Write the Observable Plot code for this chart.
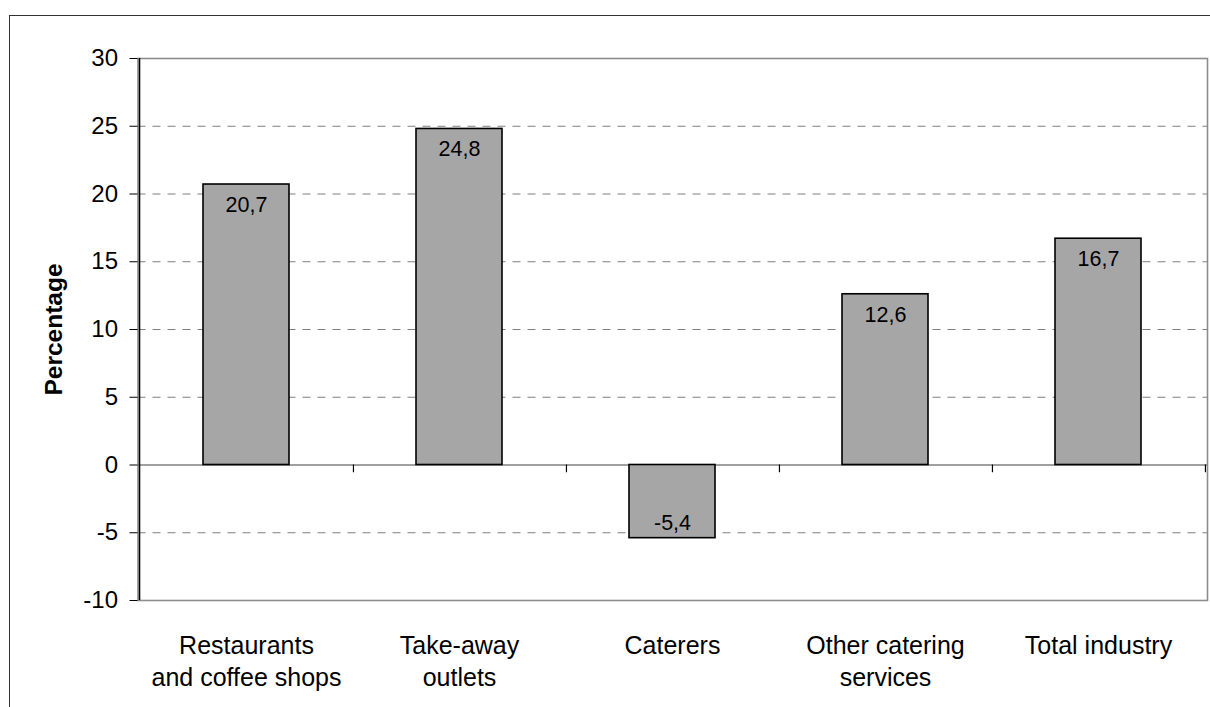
<!DOCTYPE html>
<html>
<head>
<meta charset="utf-8">
<script src="https://cdn.jsdelivr.net/npm/d3@7"></script>
<script src="https://cdn.jsdelivr.net/npm/@observablehq/plot@0.6"></script>
<style>
  html, body { margin: 0; padding: 0; background: #fff; overflow: hidden; }
  #wrap { position: relative; width: 1210px; height: 707px; }
  #outer { position: absolute; left: 9px; top: 15px; width: 1300px; height: 800px;
           border-left: 1.5px solid #333; border-top: 1.5px solid #333; box-sizing: border-box; }
  #chart { position: absolute; left: 0; top: 0; }
  svg { font-family: "Liberation Sans", Arial, sans-serif; color: #000; }
</style>
</head>
<body>
<div id="wrap"><div id="outer"></div><div id="chart"></div></div>
<script>
const categories = ["Restaurants\nand coffee shops", "Take-away\noutlets", "Caterers", "Other catering\nservices", "Total industry"];
const values = [20.7, 24.8, -5.4, 12.6, 16.7];
const yTicks = [-10, -5, 0, 5, 10, 15, 20, 25, 30];
const gridValues = [-5, 5, 10, 15, 20, 25];
const yLabel = "Percentage";

const data = categories.map((c, i) => ({category: c, value: values[i]}));
const fmt = v => v.toFixed(1).replace(".", ",");

const W = 1210, H = 707;
const mL = 137.5, mR = 3, mT = 58, mB = 107;
const step = (W - mL - mR) / categories.length;

const chart = Plot.plot({
  width: W,
  height: H,
  marginLeft: mL,
  marginRight: mR,
  marginTop: mT,
  marginBottom: mB,
  style: {fontFamily: '"Liberation Sans", Arial, sans-serif', color: "#000", background: "transparent"},
  x: {domain: categories, paddingInner: 0.596, paddingOuter: 0.298, axis: null},
  y: {domain: [-10, 30], axis: null},
  marks: [
    Plot.ruleY(gridValues, {stroke: "#808080", strokeWidth: 1.2, strokeDasharray: "8,7"}),
    Plot.frame({stroke: "#8c8c8c", strokeWidth: 1.6}),
    Plot.ruleY([0], {stroke: "#808080", strokeWidth: 1.5}),
    Plot.ruleX(categories, {x: d => d, y1: 0, y2: -0.57, dx: step / 2, stroke: "#000", strokeWidth: 1.2}),
    Plot.ruleX([categories[0]], {x: d => d, dx: -step / 2, stroke: "#000", strokeWidth: 1.5}),
    Plot.barY(data, {x: "category", y: "value", fill: "#a6a6a6", stroke: "#000", strokeWidth: 1.6}),
    Plot.text(data.filter(d => d.value >= 0), {x: "category", y: "value", text: d => fmt(d.value),
      lineAnchor: "top", dy: 12, fontSize: 21.5, fill: "#000"}),
    Plot.text(data.filter(d => d.value < 0), {x: "category", y: "value", text: d => fmt(d.value),
      lineAnchor: "bottom", dy: -8, fontSize: 21.5, fill: "#000"}),
    Plot.axisY({ticks: yTicks, tickSize: 8, tickPadding: 12, fontSize: 24, tickFormat: d => String(d), label: null, stroke: "#000"}),
    Plot.axisX({tickSize: 0, tickPadding: 31, fontSize: 25, lineHeight: 1.28, label: null}),
    Plot.text([yLabel], {text: d => d, frameAnchor: "left", dx: -84, rotate: -90, fontWeight: "bold",
      fontSize: 24.5, textAnchor: "middle", lineAnchor: "middle", fill: "#000"})
  ]
});
document.getElementById("chart").appendChild(chart);
</script>
</body>
</html>
